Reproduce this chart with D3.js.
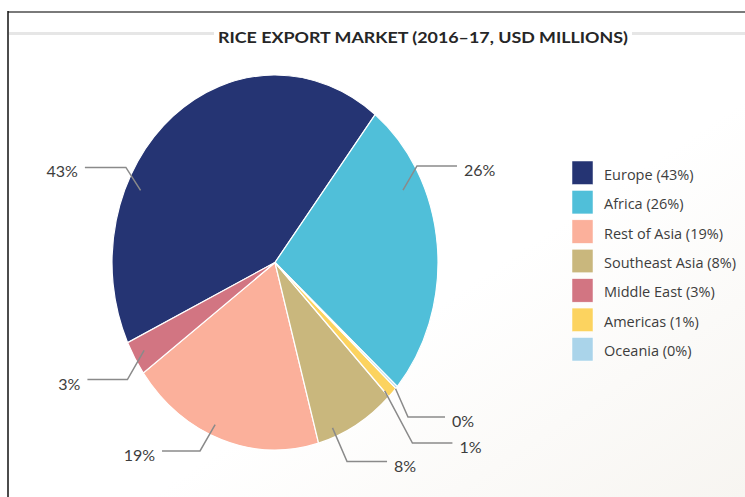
<!DOCTYPE html>
<html lang="en">
<head>
  <meta charset="UTF-8" />
  <title>Rice export market</title>
  <style>
    body { margin: 0; background: #fff; }
    svg { display: block; font-family: Lato, "Open Sans", sans-serif; }
  </style>
</head>
<body>
  <svg id="chart" width="745" height="497"></svg>
  <script src="https://d3js.org/d3.v7.min.js"></script>
  <script>
    // data
    const regions = ["Europe", "Africa", "Rest of Asia", "Southeast Asia", "Middle East", "Americas", "Oceania"];
    const shares = [42.6, 26.0, 19.3, 8.0, 3.0, 1.0, 0.2];
    const pctLabels = ["43%", "26%", "19%", "8%", "3%", "1%", "0%"];
    const colors = ["#253473", "#50bfd9", "#fbb09b", "#c9b77d", "#d27582", "#fcd35f", "#aad4ea"];
    // clockwise order of slices, starting at the Europe/Africa edge
    const pieOrder = ["Africa", "Oceania", "Americas", "Southeast Asia", "Rest of Asia", "Middle East", "Europe"];

    // leader line layout: [inner angle, inner r, elbow angle, elbow r, horizontal length]
    const leaders = [
      [295, 0.91, 299, 1.046, 41],
      [63.8, 0.875, 59.4, 1.012, 40],
      [203, 0.94, 204.6, 1.105, 38],
      [158.2, 0.95, 157.4, 1.15, 40],
      [239.7, 0.93, 235.4, 1.10, 40],
      [135.5, 0.96, 138.8, 1.28, 40],
      [132.3, 1.0, 135.3, 1.16, 37]
    ];

    const data = regions.map((r, i) => ({ region: r, value: shares[i], label: pctLabels[i], color: colors[i], leader: leaders[i] }));

    const svg = d3.select("#chart");
    const cx = 275, cy = 262.5, rx = 163, ry = 187.5;
    const rad = d => d * Math.PI / 180;

    // faint background tint bottom-right
    const defs = svg.append("defs");
    const grad = defs.append("linearGradient").attr("id", "bg")
      .attr("x1", "0").attr("y1", "0").attr("x2", "1").attr("y2", "1");
    grad.append("stop").attr("offset", "0.6").attr("stop-color", "#ffffff");
    grad.append("stop").attr("offset", "1").attr("stop-color", "#f7f5f1");
    svg.append("rect").attr("width", 745).attr("height", 497).attr("fill", "url(#bg)");

    // frame
    svg.append("line").attr("x1", 8).attr("x2", 745).attr("y1", 12).attr("y2", 12)
      .attr("stroke", "#7a7a7a").attr("stroke-width", 2);
    svg.append("line").attr("x1", 8).attr("x2", 8).attr("y1", 11).attr("y2", 497)
      .attr("stroke", "#111").attr("stroke-width", 1.5);
    svg.append("rect").attr("x", 9).attr("y", 32).attr("width", 736).attr("height", 3)
      .attr("fill", "#e6e6e6");

    // title
    svg.append("rect").attr("x", 214).attr("y", 27).attr("width", 418).attr("height", 20).attr("fill", "#fff");
    svg.append("text")
      .attr("x", 423).attr("y", 43)
      .attr("text-anchor", "middle")
      .attr("font-size", 15).attr("font-weight", "bold")
      .attr("fill", "#262626")
      .attr("textLength", 410).attr("lengthAdjust", "spacingAndGlyphs")
      .text("RICE EXPORT MARKET (2016\u201317, USD MILLIONS)");

    // pie
    const start = rad(37.9);
    const pie = d3.pie()
      .value(d => d.value)
      .sort((a, b) => pieOrder.indexOf(a.region) - pieOrder.indexOf(b.region))
      .startAngle(start).endAngle(start + 2 * Math.PI);
    const arc = d3.arc().innerRadius(0).outerRadius(rx);

    const g = svg.append("g").attr("transform", `translate(${cx},${cy}) scale(1,${ry / rx})`);
    g.selectAll("path")
      .data(pie(data))
      .join("path")
      .attr("d", arc)
      .attr("fill", d => d.data.color)
      .attr("stroke", "#fff")
      .attr("stroke-width", 1.2)
      .attr("vector-effect", "non-scaling-stroke");

    // leader lines and labels
    const pt = (a, r) => [cx + Math.sin(rad(a)) * rx * r, cy - Math.cos(rad(a)) * ry * r];
    data.forEach(d => {
      const [a0, r0, a1, r1, len] = d.leader;
      const p0 = pt(a0, r0), p1 = pt(a1, r1);
      const side = p1[0] < cx ? -1 : 1;
      const p2 = [p1[0] + side * len, p1[1]];
      svg.append("polyline")
        .attr("points", [p0, p1, p2].map(p => p.join(",")).join(" "))
        .attr("fill", "none")
        .attr("stroke", "#8a8a8a")
        .attr("stroke-width", 1.5);
      svg.append("text")
        .attr("x", p2[0] + side * 7)
        .attr("y", p2[1] + 10)
        .attr("text-anchor", side < 0 ? "end" : "start")
        .attr("font-size", 16)
        .attr("fill", "#3d3d3d")
        .text(d.label);
    });

    // legend
    const legendY = d3.scaleBand().domain(regions).range([161, 361]).paddingInner(0.2);
    const legend = svg.append("g");
    const items = legend.selectAll("g").data(data).join("g")
      .attr("transform", d => `translate(572,${legendY(d.region)})`);
    items.append("rect")
      .attr("width", 21).attr("height", legendY.bandwidth())
      .attr("fill", d => d.color)
      .attr("stroke", "#fff").attr("stroke-width", 0.5);
    items.append("text")
      .attr("x", 32).attr("y", legendY.bandwidth() / 2 + 7)
      .attr("font-family", "'Open Sans', sans-serif")
      .attr("font-size", 14.5)
      .attr("fill", "#3d3d3d")
      .text(d => `${d.region} (${d.label})`);
  </script>
</body>
</html>
